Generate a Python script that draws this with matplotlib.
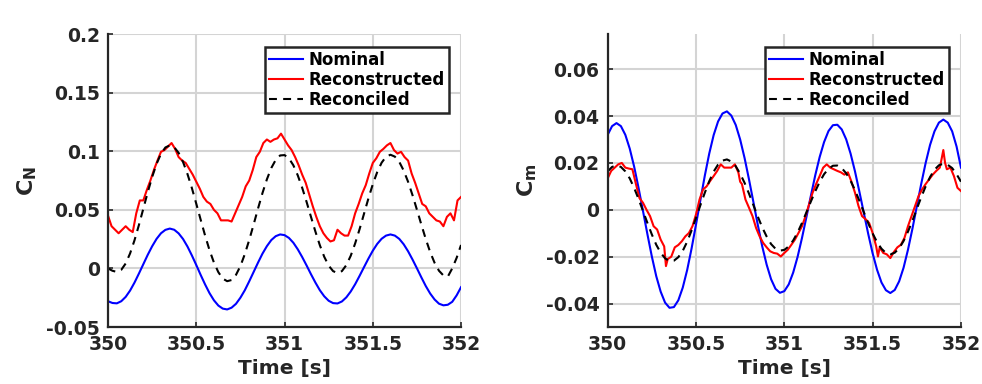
import numpy as np
import matplotlib
matplotlib.use("Agg")
import matplotlib.pyplot as plt

# ---------------- data ----------------
t_smooth = np.linspace(350, 352, 81)   # 0.025 s grid
t_fine = np.linspace(350, 352, 101)    # 0.02 s grid

cn_nominal = [-0.0280, -0.0295, -0.0298, -0.0280, -0.0243, -0.0189, -0.0121, -0.0044, 0.0036, 0.0116,
              0.0189, 0.0252, 0.0300, 0.0329, 0.0340, 0.0330, 0.0299, 0.0251, 0.0187, 0.0111,
              0.0029, -0.0056, -0.0137, -0.0211, -0.0272, -0.0317, -0.0343, -0.0350, -0.0335, -0.0302,
              -0.0250, -0.0186, -0.0110, -0.0030, 0.0050, 0.0126, 0.0190, 0.0242, 0.0275, 0.0290,
              0.0284, 0.0260, 0.0219, 0.0163, 0.0097, 0.0025, -0.0050, -0.0121, -0.0186, -0.0238,
              -0.0276, -0.0296, -0.0299, -0.0282, -0.0247, -0.0197, -0.0135, -0.0064, 0.0010, 0.0083,
              0.0151, 0.0209, 0.0253, 0.0280, 0.0290, 0.0280, 0.0252, 0.0206, 0.0146, 0.0076,
              0.0001, -0.0076, -0.0150, -0.0214, -0.0265, -0.0301, -0.0315, -0.0310, -0.0285, -0.0230,
              -0.0160]
cn_reconciled = [0.0000, -0.0020, -0.0030, -0.0012, 0.0042, 0.0128, 0.0240, 0.0370, 0.0510, 0.0650,
                 0.0780, 0.0892, 0.0978, 0.1032, 0.1050, 0.1034, 0.0986, 0.0908, 0.0806, 0.0686,
                 0.0552, 0.0415, 0.0280, 0.0156, 0.0050, -0.0032, -0.0087, -0.0109, -0.0099, -0.0055,
                 0.0020, 0.0122, 0.0243, 0.0375, 0.0512, 0.0643, 0.0760, 0.0857, 0.0926, 0.0964,
                 0.0967, 0.0939, 0.0880, 0.0794, 0.0688, 0.0567, 0.0439, 0.0314, 0.0198, 0.0099,
                 0.0024, -0.0023, -0.0040, -0.0023, 0.0028, 0.0108, 0.0213, 0.0334, 0.0465, 0.0596,
                 0.0718, 0.0822, 0.0902, 0.0953, 0.0970, 0.0954, 0.0909, 0.0835, 0.0739, 0.0625,
                 0.0501, 0.0374, 0.0251, 0.0140, 0.0048, -0.0020, -0.0060, -0.0070, 0.0000, 0.0090,
                 0.0200]
cn_reconstructed = [0.045, 0.036, 0.033, 0.030, 0.033, 0.036, 0.033, 0.031, 0.047, 0.058,
                    0.058, 0.067, 0.075, 0.084, 0.092, 0.0995, 0.101, 0.104, 0.107, 0.102,
                    0.095, 0.092, 0.090, 0.085, 0.080, 0.074, 0.068, 0.061, 0.057, 0.055,
                    0.050, 0.047, 0.041, 0.041, 0.041, 0.040, 0.047, 0.054, 0.061, 0.070,
                    0.075, 0.084, 0.095, 0.0995, 0.107, 0.110, 0.108, 0.110, 0.111, 0.115,
                    0.110, 0.105, 0.101, 0.095, 0.088, 0.080, 0.073, 0.063, 0.053, 0.044,
                    0.036, 0.030, 0.026, 0.023, 0.024, 0.033, 0.030, 0.028, 0.028, 0.036,
                    0.047, 0.055, 0.064, 0.071, 0.081, 0.090, 0.094, 0.0995, 0.102, 0.105,
                    0.107, 0.101, 0.098, 0.0995, 0.095, 0.092, 0.081, 0.073, 0.064, 0.055,
                    0.053, 0.047, 0.044, 0.041, 0.040, 0.036, 0.044, 0.047, 0.041, 0.058,
                    0.061]

cm_nominal = [0.0320, 0.0357, 0.0370, 0.0357, 0.0320, 0.0261, 0.0184, 0.0093, -0.0005, -0.0104,
              -0.0199, -0.0283, -0.0349, -0.0396, -0.0418, -0.0415, -0.0386, -0.0332, -0.0257, -0.0165,
              -0.0063, 0.0042, 0.0146, 0.0240, 0.0319, 0.0377, 0.0411, 0.0420, 0.0402, 0.0362,
              0.0300, 0.0221, 0.0130, 0.0033, -0.0065, -0.0156, -0.0234, -0.0296, -0.0337, -0.0354,
              -0.0347, -0.0318, -0.0268, -0.0201, -0.0120, -0.0031, 0.0059, 0.0147, 0.0225, 0.0289,
              0.0336, 0.0361, 0.0363, 0.0343, 0.0301, 0.0240, 0.0164, 0.0077, -0.0013, -0.0103,
              -0.0186, -0.0256, -0.0310, -0.0343, -0.0355, -0.0342, -0.0305, -0.0247, -0.0170, -0.0081,
              0.0015, 0.0111, 0.0200, 0.0277, 0.0335, 0.0372, 0.0385, 0.0372, 0.0335, 0.0270,
              0.0180]
cm_reconciled = [0.0164, 0.0183, 0.0190, 0.0183, 0.0164, 0.0134, 0.0093, 0.0046, -0.0005, -0.0056,
                 -0.0105, -0.0149, -0.0183, -0.0207, -0.0219, -0.0217, -0.0202, -0.0175, -0.0136, -0.0088,
                 -0.0035, 0.0020, 0.0073, 0.0122, 0.0163, 0.0193, 0.0210, 0.0215, 0.0206, 0.0186,
                 0.0154, 0.0115, 0.0069, 0.0020, -0.0029, -0.0075, -0.0114, -0.0146, -0.0166, -0.0174,
                 -0.0171, -0.0156, -0.0131, -0.0097, -0.0056, -0.0011, 0.0035, 0.0079, 0.0119, 0.0152,
                 0.0175, 0.0188, 0.0189, 0.0178, 0.0156, 0.0124, 0.0084, 0.0038, -0.0010, -0.0057,
                 -0.0101, -0.0138, -0.0166, -0.0184, -0.0190, -0.0183, -0.0164, -0.0133, -0.0093, -0.0047,
                 0.0004, 0.0054, 0.0100, 0.0140, 0.0171, 0.0190, 0.0197, 0.0192, 0.0178, 0.0152,
                 0.0120]
t_cm_rec = [350.00, 350.02, 350.04, 350.06, 350.08, 350.10, 350.12, 350.14, 350.16, 350.18,
            350.20, 350.22, 350.24, 350.26, 350.28, 350.30, 350.32, 350.33, 350.34, 350.36,
            350.38, 350.40, 350.42, 350.44, 350.46, 350.48, 350.50, 350.52, 350.54, 350.56,
            350.58, 350.60, 350.62, 350.64, 350.66, 350.68, 350.70, 350.72, 350.74, 350.75,
            350.76, 350.78, 350.80, 350.82, 350.84, 350.86, 350.88, 350.90, 350.92, 350.94,
            350.96, 350.98, 351.00, 351.02, 351.04, 351.06, 351.08, 351.10, 351.12, 351.14,
            351.16, 351.18, 351.20, 351.22, 351.24, 351.26, 351.28, 351.30, 351.32, 351.34,
            351.36, 351.38, 351.40, 351.42, 351.44, 351.46, 351.48, 351.50, 351.52, 351.53,
            351.54, 351.56, 351.58, 351.60, 351.62, 351.64, 351.66, 351.68, 351.70, 351.72,
            351.74, 351.76, 351.78, 351.80, 351.82, 351.84, 351.86, 351.88, 351.89, 351.90,
            351.91, 351.92, 351.94, 351.96, 351.98, 352.00]
cm_reconstructed = [0.0134, 0.0166, 0.018, 0.0194, 0.020, 0.018, 0.0176, 0.0173, 0.011, 0.005,
                    0.003, 0.000, -0.0027, -0.007, -0.0084, -0.0127, -0.0156, -0.024, -0.021, -0.020,
                    -0.016, -0.015, -0.0134, -0.0113, -0.0099, -0.007, -0.002, 0.0044, 0.0087, 0.010,
                    0.0123, 0.0144, 0.0166, 0.0194, 0.018, 0.018, 0.018, 0.0194, 0.0159, 0.012,
                    0.011, 0.0044, 0.0009, -0.0027, -0.0077, -0.0113, -0.0141, -0.016, -0.0177, -0.0184,
                    -0.0187, -0.0199, -0.0184, -0.017, -0.0149, -0.0127, -0.0099, -0.007, -0.0027, 0.0023,
                    0.0073, 0.011, 0.0144, 0.018, 0.0194, 0.018, 0.0173, 0.0166, 0.016, 0.015,
                    0.016, 0.012, 0.0073, 0.0016, -0.0027, -0.004, -0.0056, -0.0099, -0.0156, -0.0199,
                    -0.016, -0.0184, -0.019, -0.0206, -0.018, -0.016, -0.0149, -0.012, -0.007, -0.0027,
                    0.0016, 0.0059, 0.0087, 0.011, 0.013, 0.015, 0.0166, 0.018, 0.0216, 0.0255,
                    0.020, 0.0173, 0.018, 0.0144, 0.0094, 0.008]

x_ticks = [350, 350.5, 351, 351.5, 352]
x_ticklabels = ["350", "350.5", "351", "351.5", "352"]
cn_ticks = [-0.05, 0, 0.05, 0.1, 0.15, 0.2]
cn_ticklabels = ["-0.05", "0", "0.05", "0.1", "0.15", "0.2"]
cm_ticks = [-0.04, -0.02, 0, 0.02, 0.04, 0.06]
cm_ticklabels = ["-0.04", "-0.02", "0", "0.02", "0.04", "0.06"]
labels = ["Nominal", "Reconstructed", "Reconciled"]

# ---------------- style ----------------
TXT = "#262626"
plt.rcParams["font.family"] = ["DejaVu Sans"]
plt.rcParams["font.weight"] = "bold"
plt.rcParams["mathtext.default"] = "bf"
plt.rcParams["lines.scale_dashes"] = True

fig = plt.figure(figsize=(9.82, 3.84), dpi=100)
ax1 = fig.add_axes([0.1100, 0.1484, 0.3595, 0.7630])
ax2 = fig.add_axes([0.6188, 0.1484, 0.3598, 0.7630])


def style(ax, yticks, yticklabels, ylim, ylabel):
    ax.set_xlim(350, 352)
    ax.set_ylim(*ylim)
    ax.set_xticks(x_ticks)
    ax.set_xticklabels(x_ticklabels)
    ax.set_yticks(yticks)
    ax.set_yticklabels(yticklabels)
    ax.grid(True, color="#d4d4d4", lw=1.5)
    ax.set_axisbelow(True)
    for s in ["top", "right"]:
        ax.spines[s].set_visible(False)
    for s in ["left", "bottom"]:
        ax.spines[s].set_color(TXT)
        ax.spines[s].set_linewidth(1.6)
    ax.tick_params(direction="in", length=3.6, width=1.2, colors=TXT,
                   labelsize=13.5, pad=6)
    for lab in ax.get_xticklabels() + ax.get_yticklabels():
        lab.set_fontweight("bold")
    ax.set_xlabel("Time [s]", fontsize=14.5, fontweight="bold", color=TXT, labelpad=3)
    ax.set_ylabel(ylabel, fontsize=16, color=TXT, labelpad=5)


def draw(ax, t_nom, nom, t_rec, rec, t_rcn, rcn):
    ax.plot(t_nom, nom, color="#0000ff", lw=1.5, label=labels[0])
    ax.plot(t_rec, rec, color="#ff0000", lw=1.5, label=labels[1])
    ax.plot(t_rcn, rcn, color="black", lw=1.5, dashes=(3.8, 3.0), label=labels[2])
    leg = ax.legend(loc="upper right", bbox_to_anchor=(0.966, 0.956), borderaxespad=0,
                    frameon=True, fancybox=False, framealpha=1,
                    handlelength=2.0, handletextpad=0.35, borderpad=0.25,
                    labelspacing=0.12, prop={"weight": "bold", "size": 12})
    leg.get_frame().set_edgecolor("#262626")
    leg.get_frame().set_linewidth(1.8)
    for txt in leg.get_texts():
        txt.set_color("black")


draw(ax1, t_smooth, cn_nominal, t_fine, cn_reconstructed, t_smooth, cn_reconciled)
style(ax1, cn_ticks, cn_ticklabels, (-0.05, 0.2), r"$C_N$")

draw(ax2, t_smooth, cm_nominal, t_cm_rec, cm_reconstructed, t_smooth, cm_reconciled)
style(ax2, cm_ticks, cm_ticklabels, (-0.05, 0.075), r"$C_m$")

fig.savefig("out.png", dpi=100, facecolor="white")
